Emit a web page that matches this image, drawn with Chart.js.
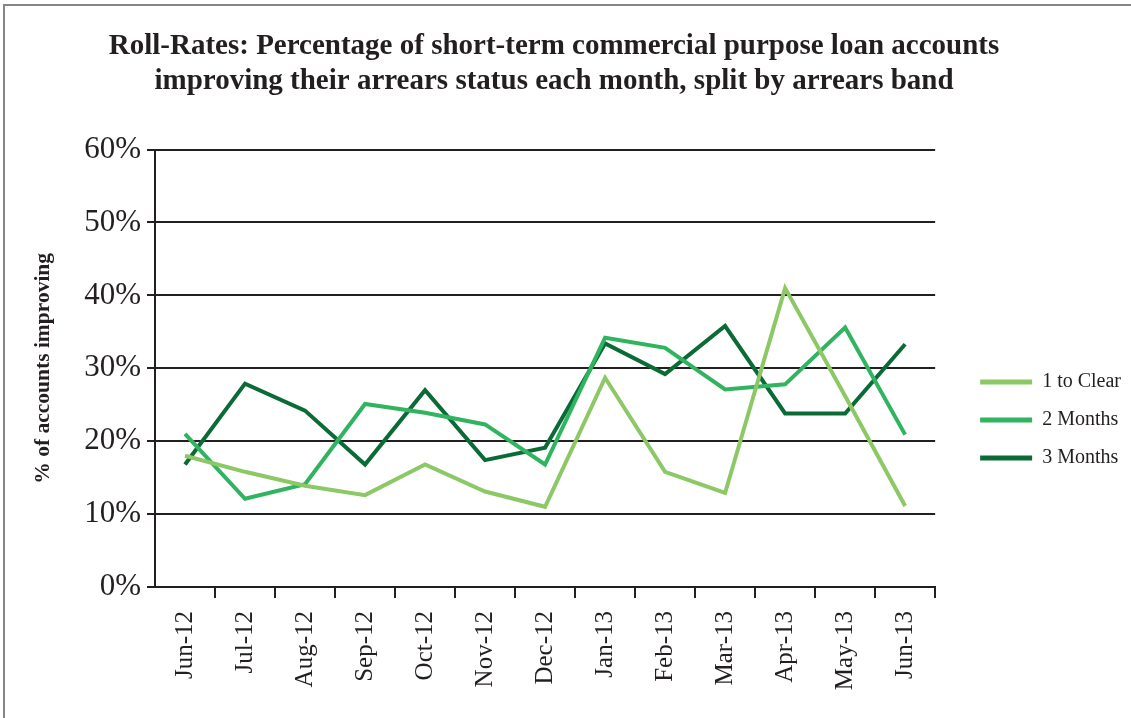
<!DOCTYPE html>
<html>
<head>
<meta charset="utf-8">
<script src="https://cdn.jsdelivr.net/npm/chart.js@4/dist/chart.umd.min.js"></script>
<style>
  html, body { margin: 0; padding: 0; background: #ffffff; }
  #wrap { width: 1131px; height: 718px; position: relative; }
</style>
</head>
<body>
<div id="wrap"><canvas id="rollRates" width="1131" height="718"></canvas></div>
<script>
// Months on the x axis
const categories = ['Jun-12', 'Jul-12', 'Aug-12', 'Sep-12', 'Oct-12', 'Nov-12', 'Dec-12',
                    'Jan-13', 'Feb-13', 'Mar-13', 'Apr-13', 'May-13', 'Jun-13'];

// Share of accounts improving (%), by arrears band
const oneToClear = [18.0, 15.8, 13.9, 12.6, 16.8, 13.1, 11.0, 28.7, 15.8, 12.9, 41.0, 26.2, 11.1];
const twoMonths  = [21.0, 12.1, 14.1, 25.1, 23.9, 22.3, 16.8, 34.2, 32.8, 27.1, 27.8, 35.6, 20.9];
const threeMonths = [16.8, 27.9, 24.2, 16.8, 27.0, 17.4, 19.1, 33.4, 29.2, 35.8, 23.8, 23.8, 33.3];

// Axis and text
const yTicks = [0, 10, 20, 30, 40, 50, 60];
const seriesNames = ['1 to Clear', '2 Months', '3 Months'];
const titleLines = ['Roll-Rates: Percentage of short-term commercial purpose loan accounts',
                    'improving their arrears status each month, split by arrears band'];
const yTitle = '% of accounts improving';

const INK = '#231f20';
const SERIF = "'Liberation Serif', 'Times New Roman', serif";
const seriesColours = ['#8cc865', '#30b45f', '#0b6b37'];

// Thin grey frame along the top and left edges of the figure
const framePlugin = {
  id: 'frame',
  afterDraw(chart) {
    const ctx = chart.ctx;
    ctx.save();
    ctx.strokeStyle = '#838886';
    ctx.lineWidth = 2;
    ctx.beginPath();
    ctx.moveTo(3, 5);
    ctx.lineTo(chart.width, 5);
    ctx.moveTo(4, 4);
    ctx.lineTo(4, chart.height);
    ctx.stroke();
    ctx.restore();
  }
};

const seriesData = [oneToClear, twoMonths, threeMonths];

new Chart(document.getElementById('rollRates'), {
  type: 'line',
  data: {
    labels: categories,
    datasets: seriesData.map((vals, i) => ({
      label: seriesNames[i],
      data: vals,
      borderColor: seriesColours[i],
      backgroundColor: seriesColours[i],
      borderWidth: 4,
      pointRadius: 0,
      pointHoverRadius: 0,
      tension: 0,
      fill: false
    }))
  },
  options: {
    responsive: false,
    devicePixelRatio: 1,
    animation: false,
    // the title is centred a little left of the canvas middle
    layout: { padding: { left: -23, right: 0, top: 0, bottom: 0 } },
    plugins: {
      tooltip: { enabled: false },
      title: {
        display: true,
        text: titleLines,
        color: INK,
        font: { family: SERIF, size: 29, weight: 'bold', lineHeight: 1.2 },
        padding: { top: 29, bottom: 51 }
      },
      legend: {
        position: 'right',
        align: 'center',
        title: { display: true, text: '', font: { size: 10 }, padding: { top: 110, bottom: 0 } },
        labels: {
          boxWidth: 52,
          boxHeight: 5,
          padding: 18,
          color: INK,
          font: { family: SERIF, size: 20 },
          generateLabels(chart) {
            return chart.data.datasets.map((ds, i) => ({
              text: ds.label,
              fillStyle: ds.borderColor,
              strokeStyle: ds.borderColor,
              lineWidth: 0,
              hidden: false,
              datasetIndex: i,
              fontColor: INK
            }));
          }
        }
      }
    },
    scales: {
      x: {
        type: 'category',
        offset: true,
        afterFit(scale) { scale.height = 131; },
        grid: {
          offset: true,
          drawOnChartArea: false,
          drawTicks: true,
          tickLength: 11,
          lineWidth: 2,
          color: (c) => (c.index === 0 ? 'rgba(0,0,0,0)' : INK)
        },
        border: { display: true, color: INK, width: 2 },
        ticks: {
          autoSkip: false,
          minRotation: 90,
          maxRotation: 90,
          padding: 13,
          color: INK,
          font: { family: SERIF, size: 25 }
        }
      },
      y: {
        type: 'linear',
        position: 'left',
        min: yTicks[0],
        max: yTicks[yTicks.length - 1],
        afterFit(scale) { scale.width = 178; },
        afterBuildTicks(scale) { scale.ticks = yTicks.map(v => ({ value: v })); },
        grid: { color: INK, lineWidth: 2, tickLength: 8 },
        border: { display: true, color: INK, width: 2 },
        ticks: {
          padding: 6,
          color: INK,
          font: { family: SERIF, size: 31 },
          callback: (v) => v + '%'
        },
        title: {
          display: true,
          text: yTitle,
          color: INK,
          font: { family: SERIF, size: 21.5, weight: 'bold' },
          padding: { top: 54, bottom: 0 }
        }
      },
      gap: {
        type: 'linear',
        position: 'right',
        display: true,
        afterFit(scale) { scale.width = 27; },
        grid: { display: false },
        border: { display: false },
        ticks: { display: false }
      }
    }
  },
  plugins: [framePlugin]
});
</script>
</body>
</html>
